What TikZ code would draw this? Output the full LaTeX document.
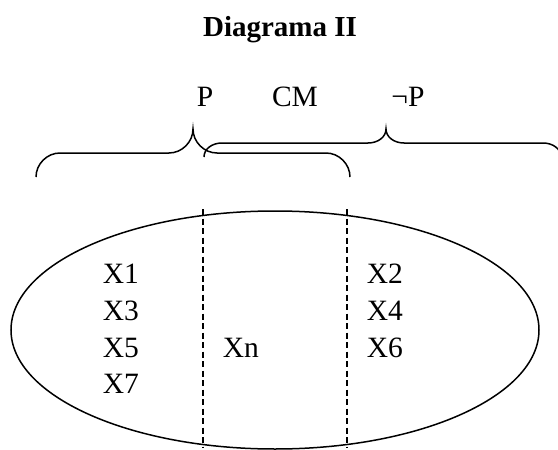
\documentclass[tikz,border=0pt]{standalone}
\usepackage{fontspec}
\setmainfont{Liberation Serif}
\begin{document}
\begin{tikzpicture}[x=1pt,y=-1pt, line width=1.5pt,
  lbl/.style={inner sep=0pt, font=\fontsize{29.5}{35}\selectfont},
  item/.style={lbl, anchor=base west},
  head/.style={lbl, anchor=base},
  divider/.style={dash pattern=on 6pt off 3.5pt, line width=1.3pt}]
\useasboundingbox (0,0) rectangle (558,450);
\clip (0,0) rectangle (558,450);
% title
\node[inner sep=0pt, anchor=base, font=\fontsize{29}{34}\selectfont\bfseries] (title) at (280,36) {Diagrama II};
% labels above braces
\node[head] (p) at (205,106) {P};
\node[head] (cm) at (295,106) {CM};
\node[head] (np) at (408,106) {¬P};
% first brace (P)
\draw (36,177) .. controls (36,164) and (47,153) .. (60,153) -- (169,153)
  .. controls (182,153) and (193,142) .. (193,129)
  .. controls (193,142) and (204,153) .. (217,153) -- (326,153)
  .. controls (339,153) and (350,164) .. (350,177);
% second brace (not P)
\draw (204,157) .. controls (204,149) and (212,143) .. (222,143) -- (368,143)
  .. controls (378,143) and (386,137) .. (386,129)
  .. controls (386,137) and (394,143) .. (404,143) -- (543,143)
  .. controls (553,143) and (561,149) .. (561,157);
% ellipse
\draw (275,330) ellipse [x radius=264pt, y radius=119pt];
% dashed dividers
\coordinate (d1t) at (203,209);
\coordinate (d1b) at (203,448);
\coordinate (d2t) at (347,209);
\coordinate (d2b) at (347,448);
\draw[divider] (d1t) -- (d1b);
\draw[divider] (d2t) -- (d2b);
% items
\node[item] (x1) at (102,283) {X1};
\node[item] (x3) at (102,320) {X3};
\node[item] (x5) at (102,357) {X5};
\node[item] (x7) at (102,393) {X7};
\node[item] (xn) at (222,357) {Xn};
\node[item] (x2) at (366,283) {X2};
\node[item] (x4) at (366,320) {X4};
\node[item] (x6) at (366,357) {X6};
\end{tikzpicture}
\end{document}
